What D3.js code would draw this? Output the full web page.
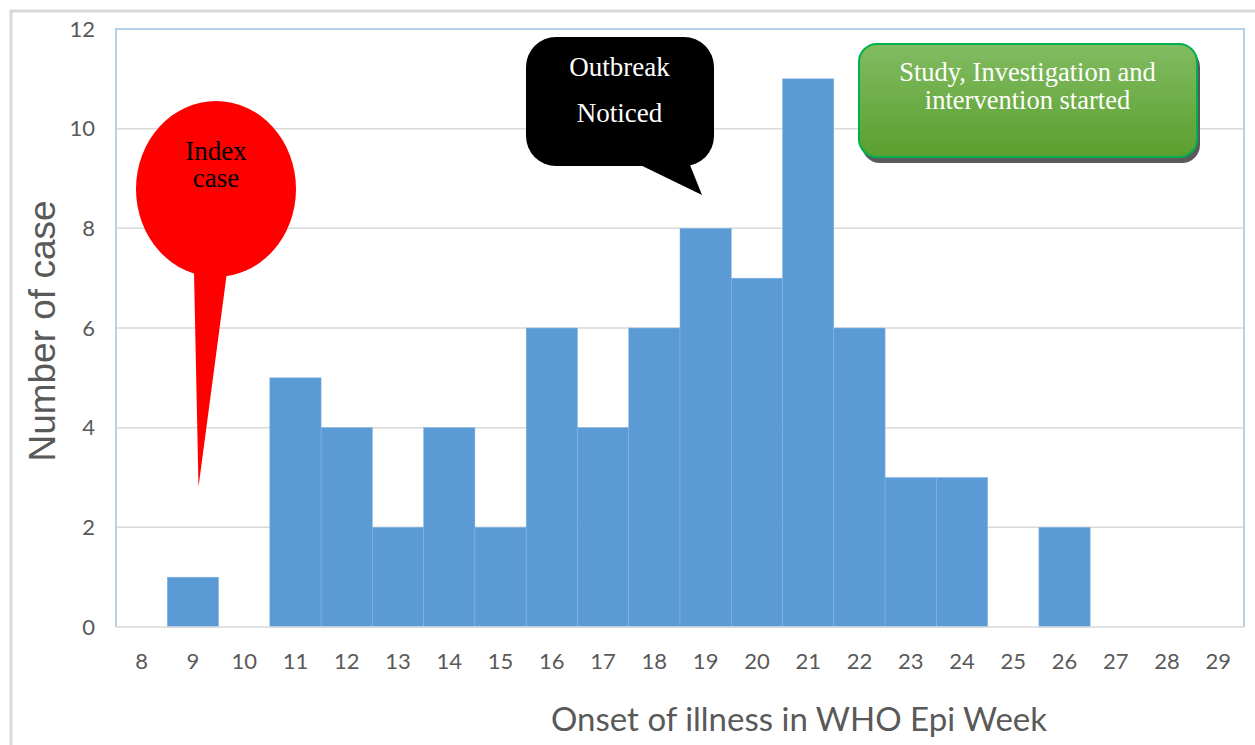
<!DOCTYPE html>
<html>
<head>
<meta charset="utf-8">
<script src="https://cdn.jsdelivr.net/npm/d3@7"></script>
<style>
  html, body { margin: 0; padding: 0; background: #fff; }
  svg { display: block; }
</style>
</head>
<body>
<svg id="chart" width="1255" height="745"></svg>
<script>
// Epi-week histogram of case onsets
const weeks = [8, 9, 10, 11, 12, 13, 14, 15, 16, 17, 18, 19, 20, 21, 22, 23, 24, 25, 26, 27, 28, 29];
const cases = [0, 1, 0, 5, 4, 2, 4, 2, 6, 4, 6, 8, 7, 11, 6, 3, 3, 0, 2, 0, 0, 0];
const yTicks = [0, 2, 4, 6, 8, 10, 12];

const svg = d3.select("#chart");
const W = 1255, H = 745;
const plot = { left: 116, right: 1244, top: 29, bottom: 627 };

const x = d3.scaleBand().domain(weeks).range([plot.left, plot.right]).padding(0);
const y = d3.scaleLinear().domain([0, 12]).range([plot.bottom, plot.top]);

// outer frame
svg.append("rect")
  .attr("x", 11).attr("y", 11)
  .attr("width", W + 20).attr("height", H + 20)
  .attr("fill", "none").attr("stroke", "#d9d9d9").attr("stroke-width", 3);

// horizontal gridlines
svg.append("g")
  .selectAll("line")
  .data(yTicks.filter(t => t > 0 && t < 12))
  .join("line")
  .attr("x1", plot.left).attr("x2", plot.right)
  .attr("y1", d => y(d)).attr("y2", d => y(d))
  .attr("stroke", "#d9d9d9").attr("stroke-width", 1.5);

// bars
const data = weeks.map((w, i) => ({ week: w, value: cases[i] }));
svg.append("g")
  .selectAll("rect")
  .data(data.filter(d => d.value > 0))
  .join("rect")
  .attr("x", d => x(d.week))
  .attr("y", d => y(d.value))
  .attr("width", x.bandwidth())
  .attr("height", d => y(0) - y(d.value))
  .attr("fill", "#5b9bd5")
  .attr("stroke", "#86b4e2")
  .attr("stroke-width", 0.5);

// plot area frame (left, top, right) and baseline
svg.append("path")
  .attr("d", `M${plot.left},${plot.bottom}V${plot.top}H${plot.right}V${plot.bottom}`)
  .attr("fill", "none").attr("stroke", "#9dc3e6").attr("stroke-width", 1.5);
svg.append("line")
  .attr("x1", plot.left).attr("x2", plot.right)
  .attr("y1", plot.bottom).attr("y2", plot.bottom)
  .attr("stroke", "#d9d9d9").attr("stroke-width", 1.5);

// y axis
const yAxis = svg.append("g")
  .attr("transform", `translate(${plot.left},0)`)
  .call(d3.axisLeft(y).tickValues(yTicks).tickSize(0).tickPadding(21));
yAxis.select(".domain").remove();
yAxis.selectAll("text")
  .attr("font-family", "Lato, 'Open Sans', sans-serif")
  .attr("font-size", 22).attr("fill", "#595959");

// x axis
const xAxis = svg.append("g")
  .attr("transform", `translate(0,${plot.bottom})`)
  .call(d3.axisBottom(x).tickSize(0).tickPadding(26));
xAxis.select(".domain").remove();
xAxis.selectAll("text")
  .attr("font-family", "Lato, 'Open Sans', sans-serif")
  .attr("font-size", 22).attr("fill", "#595959");

// axis titles
svg.append("text")
  .attr("x", 799).attr("y", 731)
  .attr("text-anchor", "middle")
  .attr("font-family", "Lato, 'Open Sans', sans-serif")
  .attr("font-size", 33).attr("fill", "#595959")
  .text("Onset of illness in WHO Epi Week");

svg.append("text")
  .attr("transform", "translate(55,331) rotate(-90)")
  .attr("text-anchor", "middle")
  .attr("font-family", "'Liberation Sans', Arial, sans-serif")
  .attr("font-size", 37).attr("fill", "#595959")
  .text("Number of case");

// --- annotations ---
const serif = "'Liberation Serif', 'Times New Roman', serif";

// multi-line label as one text element
function label(g, cx, lines, baselines, size, color) {
  const t = g.append("text")
    .attr("text-anchor", "middle").attr("font-family", serif)
    .attr("font-size", size).attr("fill", color);
  lines.forEach((s, i) => {
    t.append("tspan").attr("x", cx).attr("y", baselines[i]).text(s);
  });
}

// red pin pointing at the index case
const pin = svg.append("g");
pin.append("path")
  .attr("d", "M194,272 L227,272 L198.5,487 Z")
  .attr("fill", "#ff0000");
pin.append("ellipse")
  .attr("cx", 216).attr("cy", 189).attr("rx", 80).attr("ry", 88)
  .attr("fill", "#ff0000");
label(pin, 216, ["Index", "case"], [159.5, 187], 27, "#000");

// black speech bubble
const bub = svg.append("g");
bub.append("rect")
  .attr("x", 526).attr("y", 37).attr("width", 188).attr("height", 129)
  .attr("rx", 30).attr("ry", 30)
  .attr("fill", "#000");
bub.append("path")
  .attr("d", "M630,160 L688,160 L702,195 Z")
  .attr("fill", "#000");
label(bub, 619.5, ["Outbreak", "Noticed"], [75.5, 122], 27, "#fff");

// green box
const defs = svg.append("defs");
const grad = defs.append("linearGradient")
  .attr("id", "greenFill").attr("x1", 0).attr("y1", 0).attr("x2", 0).attr("y2", 1);
grad.append("stop").attr("offset", "0%").attr("stop-color", "#82bc62");
grad.append("stop").attr("offset", "100%").attr("stop-color", "#5a9f2e");

const box = svg.append("g");
box.append("rect")
  .attr("x", 862).attr("y", 49).attr("width", 338).attr("height", 114)
  .attr("rx", 18).attr("ry", 18)
  .attr("fill", "#5a5a5a");
box.append("rect")
  .attr("x", 859).attr("y", 44).attr("width", 338).attr("height", 113)
  .attr("rx", 18).attr("ry", 18)
  .attr("fill", "url(#greenFill)")
  .attr("stroke", "#00b050").attr("stroke-width", 2);
label(box, 1027.5, ["Study, Investigation and", "intervention started"], [81, 108.5], 26.5, "#fff");
</script>
</body>
</html>
